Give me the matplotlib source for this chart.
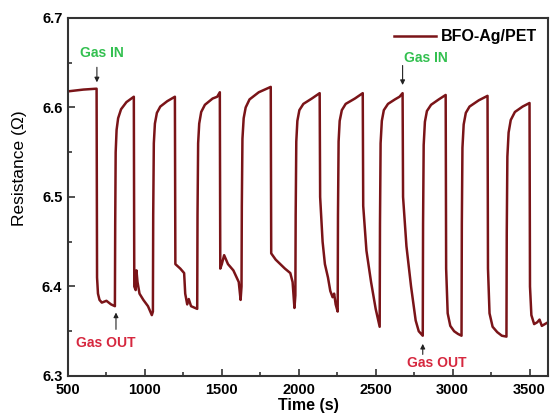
import numpy as np
import matplotlib
matplotlib.use("Agg")
from matplotlib import pyplot as plt
from matplotlib.ticker import MultipleLocator, FormatStrFormatter

plt.rcParams['font.family'] = ['Liberation Sans', 'DejaVu Sans']

# resistance trace: (time s, resistance ohm)
time_s = [
    500, 600, 686, 689, 695, 705, 720, 750, 780, 805,
    807, 810, 816, 826, 845, 880, 928,
    931, 940, 945, 952, 965, 990, 1020, 1045, 1052,
    1054, 1058, 1065, 1078, 1100, 1145, 1195,
    1198, 1230, 1255, 1262, 1275, 1285, 1300, 1340,
    1342, 1346, 1353, 1366, 1390, 1440, 1470, 1487,
    1490, 1500, 1515, 1540, 1575, 1610, 1622, 1628,
    1630, 1634, 1642, 1655, 1680, 1740, 1818,
    1821, 1850, 1880, 1910, 1945, 1960, 1972, 1978,
    1980, 1984, 1991, 2004, 2030, 2085, 2136,
    2139, 2155, 2170, 2190, 2205, 2220, 2230, 2240, 2253,
    2255, 2259, 2266, 2280, 2305, 2365, 2416,
    2419, 2440, 2470, 2500, 2520, 2526,
    2528, 2532, 2540, 2553, 2580, 2625, 2655, 2675,
    2678, 2700, 2730, 2760, 2780, 2806,
    2808, 2812, 2820, 2833, 2860, 2910, 2955,
    2958, 2968, 2985, 3010, 3035, 3058,
    3060, 3064, 3072, 3086, 3110, 3170, 3227,
    3230, 3240, 3260, 3290, 3320, 3350,
    3352, 3356, 3364, 3378, 3405, 3455, 3500,
    3503, 3512, 3530, 3550, 3565, 3580, 3600, 3620,
]
resistance = [
    6.618, 6.620, 6.621, 6.410, 6.392, 6.385, 6.382, 6.384, 6.380, 6.378,
    6.470, 6.550, 6.575, 6.588, 6.598, 6.606, 6.612,
    6.400, 6.396, 6.418, 6.405, 6.392, 6.385, 6.378, 6.368, 6.372,
    6.480, 6.560, 6.582, 6.594, 6.601, 6.607, 6.612,
    6.425, 6.420, 6.415, 6.392, 6.380, 6.386, 6.378, 6.375,
    6.480, 6.560, 6.582, 6.595, 6.603, 6.610, 6.612, 6.617,
    6.420, 6.425, 6.435, 6.425, 6.418, 6.405, 6.385, 6.400,
    6.490, 6.565, 6.588, 6.600, 6.609, 6.617, 6.623,
    6.437, 6.430, 6.425, 6.420, 6.415, 6.405, 6.376, 6.390,
    6.480, 6.562, 6.585, 6.597, 6.604, 6.610, 6.616,
    6.500, 6.450, 6.425, 6.410, 6.395, 6.388, 6.392, 6.380, 6.372,
    6.480, 6.562, 6.585, 6.597, 6.604, 6.610, 6.616,
    6.490, 6.440, 6.405, 6.375, 6.360, 6.355,
    6.470, 6.560, 6.585, 6.597, 6.604, 6.609, 6.612, 6.616,
    6.500, 6.445, 6.400, 6.362, 6.350, 6.345,
    6.470, 6.558, 6.584, 6.596, 6.603, 6.609, 6.614,
    6.420, 6.370, 6.356, 6.350, 6.347, 6.345,
    6.470, 6.555, 6.581, 6.594, 6.601, 6.608, 6.613,
    6.420, 6.370, 6.355, 6.349, 6.345, 6.344,
    6.460, 6.545, 6.572, 6.586, 6.595, 6.601, 6.605,
    6.400, 6.368, 6.358, 6.360, 6.363, 6.356, 6.358, 6.360,
]

bold = {'fontweight': 'bold'}

fig = plt.figure(figsize=(5.59, 4.18), dpi=100)
ax = fig.add_axes([0.1216, 0.1005, 0.8587, 0.8565])

ax.plot(time_s, resistance, color='#7a1418', lw=1.8, label='BFO-Ag/PET')

ax.set_xlim(500, 3620)
ax.set_ylim(6.3, 6.7)
ax.xaxis.set_major_locator(MultipleLocator(500))
ax.xaxis.set_minor_locator(MultipleLocator(250))
ax.yaxis.set_major_locator(MultipleLocator(0.1))
ax.yaxis.set_minor_locator(MultipleLocator(0.05))
ax.yaxis.set_major_formatter(FormatStrFormatter('%.1f'))
ax.tick_params(which='both', direction='in', top=False, right=False, width=1.2, color='#333333')
ax.tick_params(which='major', length=5, labelsize=10.5)
ax.tick_params(axis='x', which='major', pad=5)
ax.tick_params(axis='y', which='major', pad=4)
ax.tick_params(which='minor', length=3)
for lab in ax.get_xticklabels() + ax.get_yticklabels():
    lab.set_fontweight('bold')
for sp in ax.spines.values():
    sp.set_linewidth(1.5)
    sp.set_color('#333333')

ax.set_xlabel('Time (s)', fontsize=11.5, labelpad=1, **bold)
ax.set_ylabel('Resistance (\u03a9)', fontsize=12.5)
ax.yaxis.set_label_coords(-0.085, 0.58)

ax.legend(loc='upper right', frameon=False, handlelength=2.6, borderaxespad=0.3,
          handletextpad=0.3, prop={'weight': 'bold', 'size': 11.5})

green = '#33c050'
red = '#d6283f'
arrow = dict(arrowstyle='-|>', color='#222222', lw=0.8, mutation_scale=7)
ax.text(720, 6.661, 'Gas IN', color=green, fontsize=10, ha='center', va='center', **bold)
ax.annotate('', xy=(688, 6.625), xytext=(688, 6.648), arrowprops=arrow)
ax.text(2825, 6.655, 'Gas IN', color=green, fontsize=10, ha='center', va='center', **bold)
ax.annotate('', xy=(2675, 6.622), xytext=(2675, 6.650), arrowprops=arrow)
ax.text(747, 6.337, 'Gas OUT', color=red, fontsize=10, ha='center', va='center', **bold)
ax.annotate('', xy=(812, 6.374), xytext=(812, 6.349), arrowprops=arrow)
ax.text(2896, 6.315, 'Gas OUT', color=red, fontsize=10, ha='center', va='center', **bold)
ax.annotate('', xy=(2806, 6.339), xytext=(2806, 6.321), arrowprops=arrow)

fig.savefig('out.png', dpi=100)
